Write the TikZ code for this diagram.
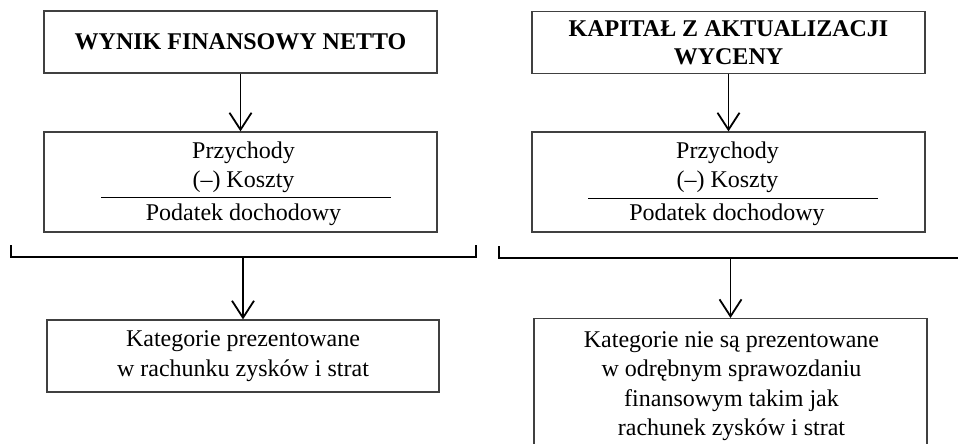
\documentclass[tikz,border=0pt]{standalone}
\usepackage{fontspec}
\setmainfont{Liberation Serif}
\usetikzlibrary{arrows.meta}
\begin{document}
\begin{tikzpicture}[x=0.5pt,y=-0.5pt,
  box/.style={draw=black!75, line width=0.6pt, rectangle, inner sep=0pt},
  txt/.style={font=\fontsize{12}{14.75}\selectfont, align=center, inner sep=0pt},
  head/.style={txt, font=\fontsize{12}{14}\selectfont\bfseries},
  flow/.style={line width=0.9pt, -{Straight Barb[length=8.5pt,width=11pt,line width=0.9pt]}},
  bracket/.style={line width=1.25pt},
  rule/.style={line width=0.9pt}
]
\useasboundingbox (0,0) rectangle (958,444);

% top row: headings
\node[box, head, minimum width=196.5pt, minimum height=31pt] (netL) at (240.5,42) {WYNIK FINANSOWY NETTO};
\node[box, head, minimum width=196.5pt, minimum height=31pt] (netR) at (728.5,42.5) {KAPITAŁ Z AKTUALIZACJI\\WYCENY};

% middle row: revenue / cost / tax boxes
\node[box, minimum width=196.5pt, minimum height=50pt] (midL) at (240.5,182) {};
\node[box, minimum width=196.5pt, minimum height=50pt] (midR) at (728.5,182) {};

\node[txt, anchor=base] (revL) at (243.5,158) {Przychody};
\node[txt, anchor=base] (costL) at (243.5,187) {(–) Koszty};
\node[txt, anchor=base] (taxL) at (243.5,220) {Podatek dochodowy};
\coordinate (ruleL1) at (101,197.5);
\coordinate (ruleL2) at (391,197.5);
\draw[rule] (ruleL1) -- (ruleL2);

\node[txt, anchor=base] (revR) at (727.5,158) {Przychody};
\node[txt, anchor=base] (costR) at (727.5,187) {(–) Koszty};
\node[txt, anchor=base] (taxR) at (727,220) {Podatek dochodowy};
\coordinate (ruleR1) at (588,198.5);
\coordinate (ruleR2) at (878,198.5);
\draw[rule] (ruleR1) -- (ruleR2);

\draw[flow] (netL.south) -- (midL.north);
\draw[flow] (netR.south) -- (midR.north);

% brackets gathering each column
\coordinate (brL1) at (11,245);
\coordinate (brL2) at (11,257);
\coordinate (brL3) at (476,257);
\coordinate (brL4) at (476,245);
\draw[bracket] (brL1) -- (brL2) -- (brL3) -- (brL4);
\coordinate (brR1) at (499,246);
\coordinate (brR2) at (499,258);
\coordinate (brR3) at (970,258);
\draw[bracket] (brR1) -- (brR2) -- (brR3);

% bottom row: where the categories are presented
\node[box, txt, minimum width=196pt, minimum height=36pt] (catL) at (243,356)
  {Kategorie prezentowane\\w rachunku zysków i strat};
\node[box, minimum width=196.5pt, minimum height=75pt, anchor=north] (catR) at (730.5,318) {};
\node[txt] (catRtext) at (731.5,386)
  {Kategorie nie są prezentowane\\w odrębnym sprawozdaniu\\finansowym takim jak\\rachunek zysków i strat};

\coordinate (fromL) at (243,257);
\coordinate (fromR) at (730.5,258);
\draw[flow] (fromL) -- (catL.north);
\draw[flow] (fromR) -- (catR.north);
\end{tikzpicture}
\end{document}
